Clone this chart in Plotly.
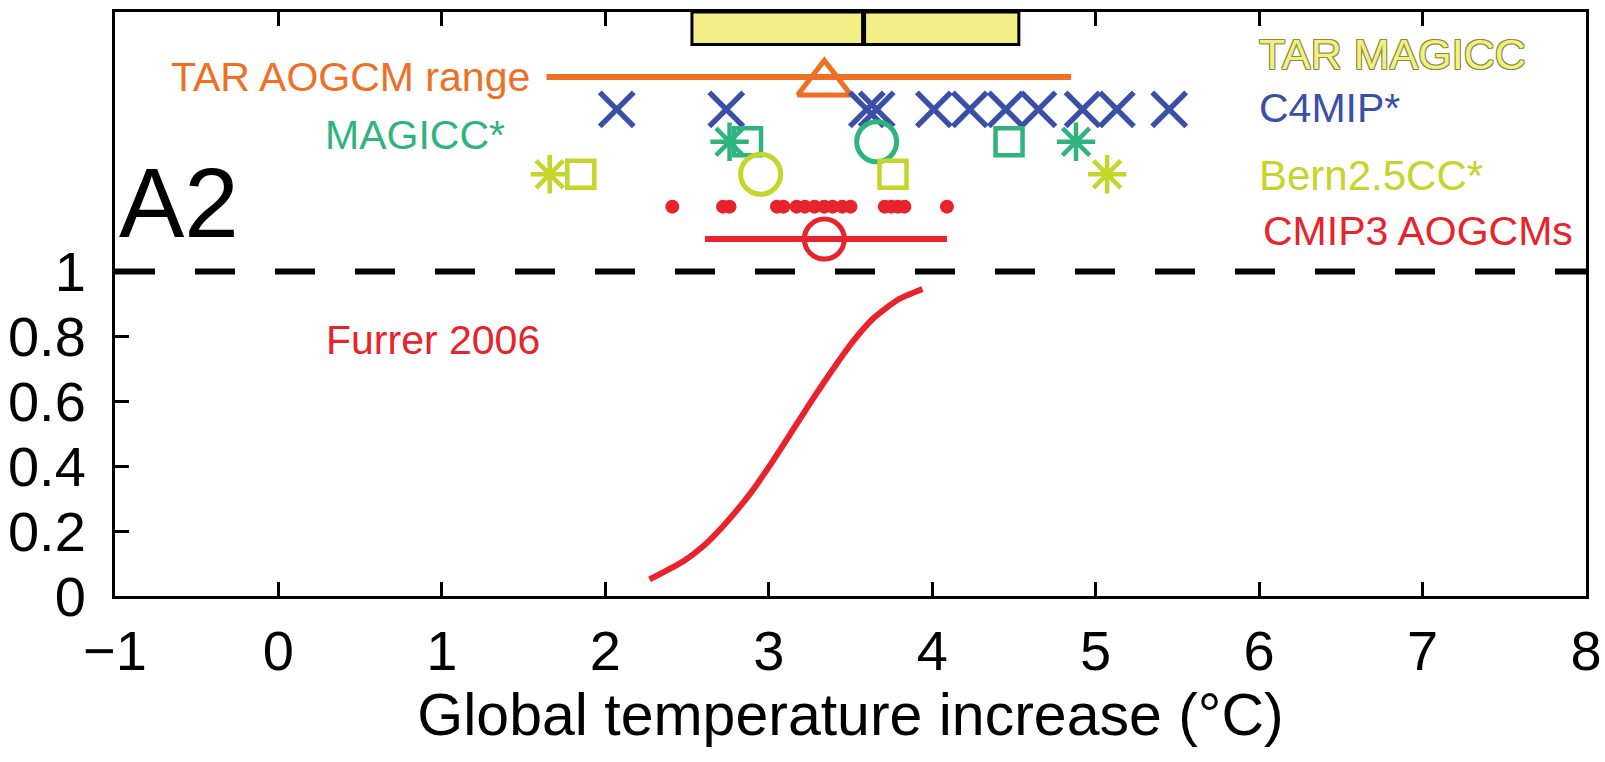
import plotly.graph_objects as go

# ---------------- data ----------------
tick_x = [-1, 0, 1, 2, 3, 4, 5, 6, 7, 8]
tick_y = [0, 0.2, 0.4, 0.6, 0.8, 1]
tick_y_text = ["0", "0.2", "0.4", "0.6", "0.8", "1"]

# TAR MAGICC box (low, median, high)
tar_magicc_low = 2.53
tar_magicc_median = 3.58
tar_magicc_high = 4.53

# TAR AOGCM range and best estimate
tar_aogcm_range = [1.64, 4.85]
tar_aogcm_mid = [3.34]

# C4MIP* models
c4mip_models = [2.07, 2.74, 3.60, 3.66, 4.01, 4.23, 4.45, 4.65, 4.92, 5.13, 5.45]

# MAGICC*
magicc_asterisk = [2.76, 4.88]
magicc_square = [2.87, 4.47]
magicc_circle = [3.66]

# Bern2.5CC*
bern_asterisk = [1.66, 5.07]
bern_square = [1.85, 3.76]
bern_circle = [2.95]

# CMIP3 AOGCMs
cmip3_models = [2.41, 2.72, 2.76, 3.05, 3.09, 3.17, 3.22, 3.28, 3.34, 3.39,
                3.45, 3.50, 3.71, 3.75, 3.79, 3.83, 4.09]
cmip3_mean = [3.34]
cmip3_range = [2.61, 4.09]

# Furrer 2006 cumulative distribution
furrer_t = [2.27, 2.48, 2.60, 2.72, 2.89, 3.01, 3.13, 3.26, 3.38, 3.50, 3.64, 3.79, 3.94]
furrer_p = [0.051, 0.108, 0.154, 0.215, 0.318, 0.405, 0.498, 0.600, 0.690, 0.775, 0.856, 0.913, 0.946]

# ---------------- layout positions (rows) ----------------
ROW_BOX = (1.70, 1.80)
ROW_TAR = 1.60
ROW_C4MIP = 1.50
ROW_MAGICC = 1.40
ROW_BERN = 1.30
ROW_CMIP3 = 1.20
ROW_CMIP3_MEAN = 1.10

# ---------------- styles ----------------
FONT = "Liberation Sans, Arial, Helvetica, sans-serif"
ORANGE = "#ee7024"
BLUE = "#3a50a8"
GREEN = "#2fb47e"
LIME = "#c5d52b"
RED = "#e8232b"
YELLOW = "#f3ef86"

fig = go.Figure()

def mk(x, y, symbol, size, color, width=5):
    return go.Scatter(
        x=x, y=[y] * len(x), mode="markers", showlegend=False, hoverinfo="x",
        marker=dict(symbol=symbol, size=size, color=color,
                    line=dict(width=width, color=color)),
        cliponaxis=False,
    )

# Furrer curve
fig.add_trace(go.Scatter(x=furrer_t, y=furrer_p, mode="lines", showlegend=False,
                         line=dict(color=RED, width=6, shape="spline", smoothing=0.6)))

# TAR AOGCM range
fig.add_trace(go.Scatter(x=tar_aogcm_range, y=[ROW_TAR] * 2, mode="lines",
                         showlegend=False, line=dict(color=ORANGE, width=6)))
fig.add_trace(mk(tar_aogcm_mid, ROW_TAR - 0.02, "triangle-up-open", 46, ORANGE, 5))

# C4MIP
fig.add_trace(mk(c4mip_models, ROW_C4MIP, "x-thin", 34, BLUE, 5.5))

# MAGICC
fig.add_trace(mk(magicc_asterisk, ROW_MAGICC, "asterisk", 32, GREEN, 4.5))
fig.add_trace(mk(magicc_square, ROW_MAGICC, "square-open", 27, GREEN, 4.5))
fig.add_trace(mk(magicc_circle, ROW_MAGICC, "circle-open", 40, GREEN, 5))

# Bern
fig.add_trace(mk(bern_asterisk, ROW_BERN, "asterisk", 32, LIME, 4.5))
fig.add_trace(mk(bern_square, ROW_BERN, "square-open", 27, LIME, 4.5))
fig.add_trace(mk(bern_circle, ROW_BERN, "circle-open", 40, LIME, 5))

# CMIP3
fig.add_trace(go.Scatter(x=cmip3_models, y=[ROW_CMIP3] * len(cmip3_models), mode="markers",
                         showlegend=False, marker=dict(symbol="circle", size=14, color=RED)))
fig.add_trace(go.Scatter(x=cmip3_range, y=[ROW_CMIP3_MEAN] * 2, mode="lines",
                         showlegend=False, line=dict(color=RED, width=6)))
fig.add_trace(mk(cmip3_mean, ROW_CMIP3_MEAN, "circle-open", 40, RED, 5))

# TAR MAGICC box and median
fig.add_shape(type="rect", xref="x", yref="y", x0=tar_magicc_low, x1=tar_magicc_high,
              y0=ROW_BOX[0], y1=ROW_BOX[1], fillcolor=YELLOW,
              line=dict(color="black", width=3), layer="above")
fig.add_shape(type="line", xref="x", yref="y", x0=tar_magicc_median, x1=tar_magicc_median,
              y0=ROW_BOX[0], y1=ROW_BOX[1], line=dict(color="black", width=5), layer="above")

# dashed line at probability 1
fig.add_shape(type="line", xref="paper", yref="y", x0=0, x1=1, y0=1, y1=1,
              line=dict(color="black", width=6, dash="40px,40px"), layer="above")

def label(text, x, y, color, size=41, xanchor="left", font_extra=None):
    f = dict(family=FONT, size=size, color=color)
    if font_extra:
        f.update(font_extra)
    fig.add_annotation(x=x, y=y, xref="x", yref="y", text=text, showarrow=False,
                       xanchor=xanchor, yanchor="middle", font=f)

label("TAR AOGCM range", 1.55, ROW_TAR, ORANGE, xanchor="right")
label("MAGICC*", 0.27, 1.42, GREEN)
label("A2", -0.99, 1.21, "black", size=98)
label("Furrer 2006", 0.28, 0.79, RED)
outline = "#8c8a3c"
label("TAR MAGICC", 5.99, 1.67, "#f2ef84", size=43,
      font_extra=dict(shadow=f"1px 1px 0 {outline}, -1px -1px 0 {outline}, "
                             f"1px -1px 0 {outline}, -1px 1px 0 {outline}"))
label("C4MIP*", 5.99, 1.505, BLUE)
label("Bern2.5CC*", 5.99, 1.295, LIME, size=42)
label("CMIP3 AOGCMs", 6.01, 1.125, RED)

fig.update_layout(
    width=1605, height=762,
    margin=dict(l=115, r=19, t=12, b=166),
    paper_bgcolor="white", plot_bgcolor="white",
    font=dict(family=FONT, color="black"),
    xaxis=dict(range=[-1, 8], tickvals=tick_x, ticks="inside", ticklen=14, tickwidth=3,
               tickcolor="black", showline=True, linewidth=3, linecolor="black",
               mirror="ticks", showgrid=False, zeroline=False, automargin=False,
               tickfont=dict(size=56, family=FONT, color="black"),
               ticklabelstandoff=4,
               title=dict(text="Global temperature increase (°C)",
                          font=dict(size=59, family=FONT, color="black"), standoff=6)),
    yaxis=dict(range=[0, 1.8], tickvals=tick_y, ticktext=tick_y_text, ticks="inside",
               ticklen=14, tickwidth=3, tickcolor="black", showline=True, linewidth=3,
               linecolor="black", mirror=True, showgrid=False, zeroline=False,
               automargin=False,
               tickfont=dict(size=56, family=FONT, color="black"),
               ticklabelstandoff=15),
)

fig.write_html("out.html")
